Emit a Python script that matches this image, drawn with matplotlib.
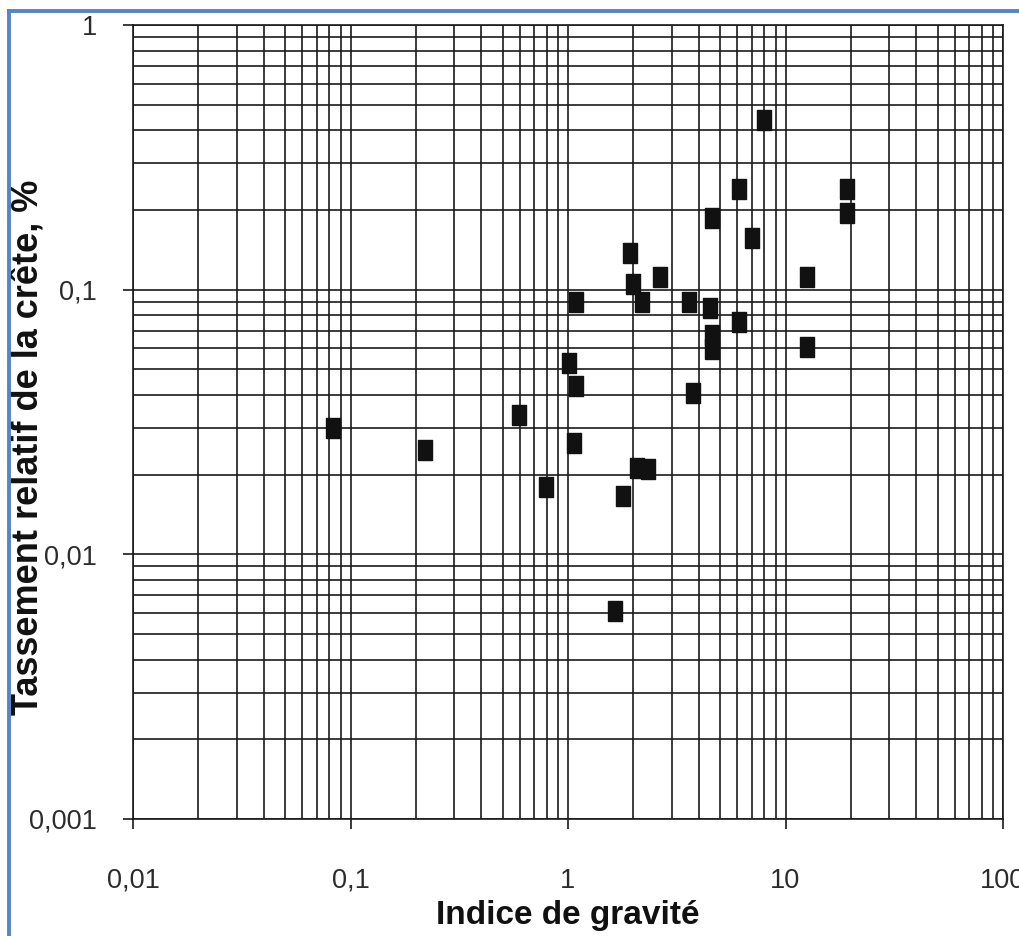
import matplotlib
matplotlib.use('Agg')
import matplotlib.pyplot as plt
from matplotlib.lines import Line2D

plt.rcParams['font.family'] = ['Liberation Sans', 'DejaVu Sans']

# indice de gravité / tassement relatif de la crête (%)
indice = [0.083, 0.22, 0.595, 0.79, 1.01, 1.088, 1.09, 1.066,
          1.93, 1.99, 2.19, 2.65, 3.6, 3.76, 4.5, 4.6, 4.6, 4.6,
          6.1, 7.0, 7.97, 6.1, 12.5, 12.5, 19.2, 19.2,
          1.79, 2.07, 2.33, 1.64]
tassement = [0.030, 0.0248, 0.0336, 0.0180, 0.0529, 0.0899, 0.0433, 0.0264,
             0.1376, 0.105, 0.0899, 0.1117, 0.0899, 0.0407, 0.0853, 0.0674, 0.0597, 0.1866,
             0.240, 0.157, 0.4376, 0.0755, 0.1117, 0.0607, 0.240, 0.195,
             0.0166, 0.0212, 0.0210, 0.00611]

xticks = [0.01, 0.1, 1, 10, 100]
xlabels = ['0,01', '0,1', '1', '10', '100']
yticks = [0.001, 0.01, 0.1, 1]
ylabels = ['0,001', '0,01', '0,1', '1']

W, H = 1020, 936
fig = plt.figure(figsize=(W / 100, H / 100), dpi=100)
ax = fig.add_axes([133 / W, 1 - 819 / H, 870 / W, 794 / H])

ax.set_xscale('log')
ax.set_yscale('log')
ax.set_xlim(0.01, 100)
ax.set_ylim(0.001, 1)

ax.grid(True, which='both', color='#1a1a1a', linewidth=1.2)
ax.set_axisbelow(True)

rect = [(-0.37, -0.5), (0.37, -0.5), (0.37, 0.5), (-0.37, 0.5), (-0.37, -0.5)]
ax.plot(indice, tassement, linestyle='none', marker=rect, markersize=14,
        color='#111111', zorder=3, clip_on=False)

ax.set_xticks(xticks)
ax.set_xticklabels(xlabels)
ax.set_yticks(yticks)
ax.set_yticklabels(ylabels)
ax.minorticks_off()
ax.tick_params(axis='both', which='major', direction='out', length=7, width=1.2,
               color='#1a1a1a', labelsize=19.5, labelcolor='#2b2b2b')
ax.tick_params(axis='x', pad=28)
ax.tick_params(axis='y', pad=19)
ax.xaxis.set_minor_locator(matplotlib.ticker.LogLocator(subs=range(2, 10)))
ax.yaxis.set_minor_locator(matplotlib.ticker.LogLocator(subs=range(2, 10)))
ax.tick_params(which='minor', length=0)
for s in ax.spines.values():
    s.set_color('#1a1a1a')
    s.set_linewidth(1.2)

ax.set_xlabel('Indice de gravité', fontsize=24, fontweight='bold', color='#111111')
ax.xaxis.set_label_coords(0.5, (819 - 900) / 794)
ax.set_ylabel('Tassement relatif de la crête, %', fontsize=26, fontweight='bold', color='#111111')
ax.yaxis.set_label_coords((46 - 133) / 870, 1 - (447 - 25) / 794)

# cadre bleu
blue = '#5585c5'
fig.add_artist(Line2D([9 / W, 9 / W], [0, 1 - 11 / H], color=blue, linewidth=2.8))
fig.add_artist(Line2D([9 / W, 1], [1 - 11 / H, 1 - 11 / H], color=blue, linewidth=2.8))

fig.savefig('out.png', dpi=100)
